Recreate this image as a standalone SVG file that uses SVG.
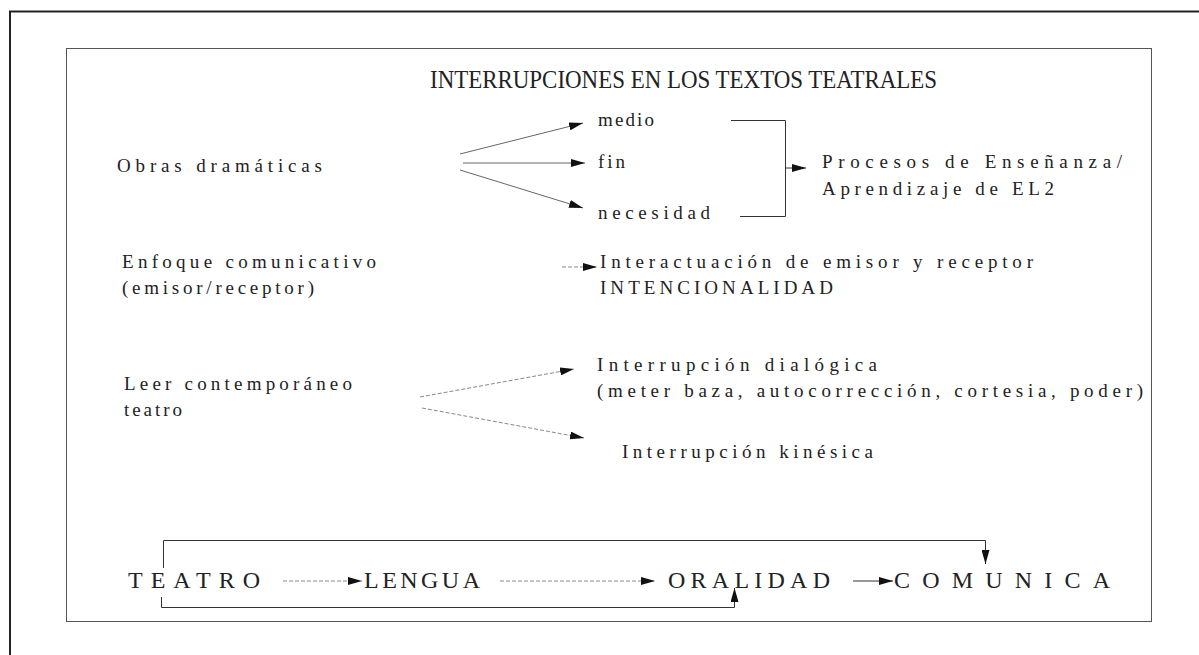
<svg xmlns="http://www.w3.org/2000/svg" width="1199" height="655" viewBox="0 0 1199 655" font-family="'Liberation Serif', 'Times New Roman', serif">
<style>
text{font-family:'Liberation Serif','Times New Roman',serif;fill:#222;}
.t{font-size:19px;}
.big{font-size:24px;}
.ln{stroke:#333;stroke-width:1;fill:none;}
.lt{stroke:#666;stroke-width:1;fill:none;}
.dt{stroke:#888;stroke-width:1;fill:none;stroke-dasharray:4 2;}
</style>
<defs>
<marker id="ah" viewBox="0 0 14 8" refX="14" refY="4" markerWidth="14" markerHeight="8" markerUnits="userSpaceOnUse" orient="auto">
<path d="M0,0 L14,4 L0,8 Z" fill="#111"/>
</marker>
</defs>
<rect width="1199" height="655" fill="#fff"/>
<g id="frame">
<path d="M10,655 V11.5 H1199" stroke="#222" stroke-width="2" fill="none"/>
<rect x="66.5" y="48.5" width="1085" height="573" fill="none" stroke="#555" stroke-width="1"/>
</g>
<g id="title"><text x="430" y="88" font-size="26" textLength="507" lengthAdjust="spacingAndGlyphs">INTERRUPCIONES EN LOS TEXTOS TEATRALES</text></g>
<g id="obras"><text class="t" x="117" y="172" textLength="205" lengthAdjust="spacing">Obras dramáticas</text></g>
<g id="medio"><text class="t" x="598" y="126" textLength="56" lengthAdjust="spacing">medio</text></g>
<g id="fin"><text class="t" x="598" y="168" textLength="27" lengthAdjust="spacing">fin</text></g>
<g id="necesidad"><text class="t" x="598" y="219" textLength="112" lengthAdjust="spacing">necesidad</text></g>
<g id="procesos">
<text class="t" x="822" y="168" textLength="300" lengthAdjust="spacing">Procesos de Enseñanza/</text>
<text class="t" x="822" y="195" textLength="232" lengthAdjust="spacing">Aprendizaje de EL2</text>
</g>
<g id="enfoque">
<text class="t" x="122" y="268" textLength="254" lengthAdjust="spacing">Enfoque comunicativo</text>
<text class="t" x="122" y="294" textLength="192" lengthAdjust="spacing">(emisor/receptor)</text>
</g>
<g id="interactuacion">
<text class="t" x="600" y="268" textLength="433" lengthAdjust="spacing">Interactuación de emisor y receptor</text>
<text class="t" x="600" y="294" textLength="233" lengthAdjust="spacing">INTENCIONALIDAD</text>
</g>
<g id="leer">
<text class="t" x="124" y="390" textLength="228" lengthAdjust="spacing">Leer contemporáneo</text>
<text class="t" x="124" y="416" textLength="58" lengthAdjust="spacing">teatro</text>
</g>
<g id="dialogica">
<text class="t" x="597" y="371" textLength="280" lengthAdjust="spacing">Interrupción dialógica</text>
<text class="t" x="597" y="397" textLength="546" lengthAdjust="spacing">(meter baza, autocorrección, cortesia, poder)</text>
</g>
<g id="kinesica"><text class="t" x="622" y="458" textLength="251" lengthAdjust="spacing">Interrupción kinésica</text></g>
<g id="teatro"><text class="big" x="128" y="588" textLength="132" lengthAdjust="spacing">TEATRO</text></g>
<g id="lengua"><text class="big" x="364" y="588" textLength="116" lengthAdjust="spacing">LENGUA</text></g>
<g id="oralidad"><text class="big" x="668" y="588" textLength="162" lengthAdjust="spacing">ORALIDAD</text></g>
<g id="comunica"><text class="big" x="894" y="588" textLength="216" lengthAdjust="spacing">COMUNICA</text></g>
<g id="connectors">
<line class="lt" x1="460" y1="154" x2="583" y2="123" marker-end="url(#ah)"/>
<line class="lt" x1="463" y1="163" x2="585" y2="163" marker-end="url(#ah)"/>
<line class="lt" x1="460" y1="170" x2="583" y2="208" marker-end="url(#ah)"/>
<path class="ln" d="M731,120.5 H785.5 V216.5 H740"/>
<line class="ln" x1="785" y1="168" x2="806" y2="168" marker-end="url(#ah)"/>
<line class="dt" x1="562" y1="267" x2="597" y2="267" marker-end="url(#ah)"/>
<line class="dt" x1="420" y1="397" x2="574" y2="369" marker-end="url(#ah)"/>
<line class="dt" x1="422" y1="408" x2="584" y2="438" marker-end="url(#ah)"/>
<line class="dt" x1="283" y1="581" x2="362" y2="581" marker-end="url(#ah)"/>
<line class="dt" x1="500" y1="581" x2="655" y2="581" marker-end="url(#ah)"/>
<line class="ln" x1="853" y1="581" x2="893" y2="581" marker-end="url(#ah)"/>
<path class="ln" d="M163.5,568 V540.5 H985.5 V564" marker-end="url(#ah)"/>
<path class="ln" d="M161.5,597 V607.5 H734.5 V588" marker-end="url(#ah)"/>
</g>
</svg>
